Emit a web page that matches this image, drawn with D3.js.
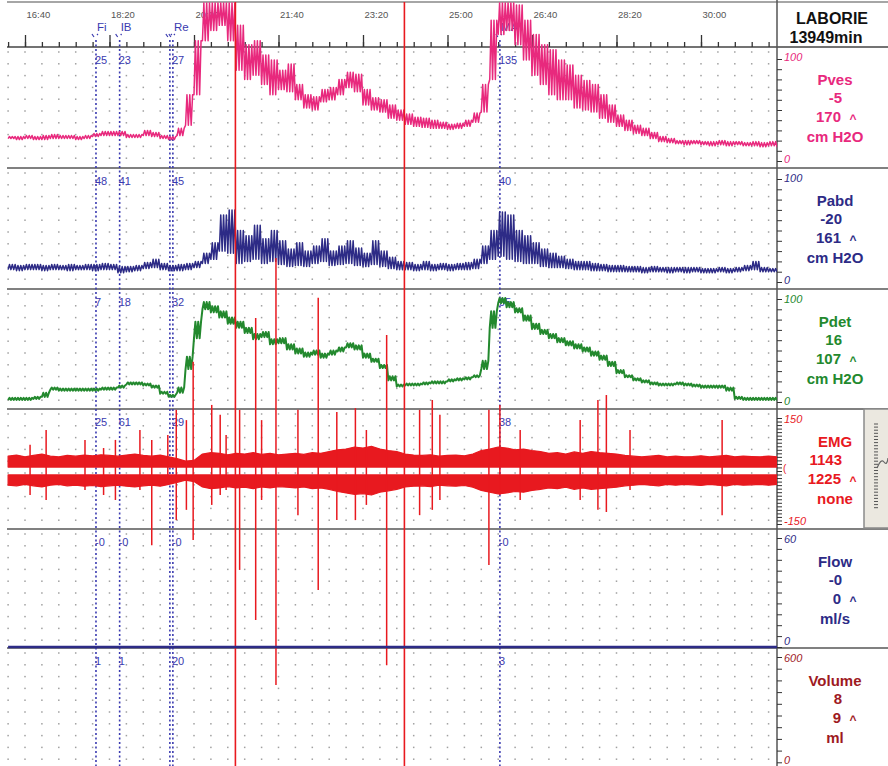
<!DOCTYPE html>
<html lang="en">
<head>
<meta charset="utf-8">
<title>Urodynamics trace</title>
<script src="https://cdn.jsdelivr.net/npm/d3@7"></script>
<style>
* { margin: 0; padding: 0; }
body { background: #fff; }
svg { display: block; font-family: 'Liberation Sans', Arial, sans-serif; }
</style>
</head>
<body>
<script>
// ---- data (time in seconds) ----
const t0 = 980, step = 10;   // one lo/hi pair every 10 s
const majorTicks = [1000, 1100, 1200, 1300, 1400, 1500, 1600, 1700, 1800];
const tickLabels = ["16:40", "18:20", "20:00", "21:40", "23:20", "25:00", "26:40", "28:20", "30:00"];
const minorTicks = [980,1000,1020,1040,1060,1080,1100,1120,1140,1160,1180,1200,1220,1240,1260,1280,1300,1320,1340,1360,1380,1400,1420,1440,1460,1480,1500,1520,1540,1560,1580,1600,1620,1640,1660,1680,1700,1720,1740,1760,1780,1800,1820,1840,1860,1880];

const pvesLo = [22,21,22,21,21,22,22,22,21,22, 24,25,25,25,23,23,25,24,22,21, 25,35,65,118,128,133,118,89,80,84, 75,65,70,68,60,52,50,58,60,65, 72,68,55,50,48,42,40,36,34,33, 32,32,31,32,34,38,48,80,124,128, 114,99,84,75,65,60,60,52,50,48, 42,38,34,30,27,25,22,19,18,17, 16,17,16,15,16,15,16,15,15,14, 15,14];
const pvesHi = [24,24,25,24,25,26,25,25,24,25, 27,29,29,29,26,26,30,28,25,24, 32,65,118,155,155,155,155,133,114,118, 104,99,89,95,75,65,63,70,72,80, 87,85,70,62,60,55,50,46,43,42, 40,38,36,37,40,47,75,138,155,155, 153,138,124,114,109,99,94,84,79,75, 65,55,45,40,35,32,28,24,22,20, 20,20,19,19,20,19,19,18,19,18, 19,17];

const pabdLo = [12,11,12,12,11,12,12,11,12,12, 11,12,12,9,10,11,13,14,12,11, 11,12,14,18,22,30,28,18,20,22, 18,20,17,15,16,15,18,20,16,17, 18,16,15,17,15,13,12,12,11,12, 11,12,11,12,12,13,18,22,25,22, 20,18,18,15,14,14,13,12,12,11, 11,10,10,10,10,9,10,10,9,10, 9,10,9,9,10,9,10,11,12,10, 10,10];
const pabdHi = [17,16,17,17,16,17,16,17,16,17, 17,18,17,15,15,16,19,22,18,16, 17,18,20,28,38,65,70,50,45,55, 42,50,40,32,38,30,35,42,30,35, 40,33,28,40,30,24,20,19,17,20, 17,18,17,18,19,22,35,50,68,65, 50,45,38,32,28,25,22,20,20,18, 17,16,16,15,15,14,15,14,14,14, 14,14,13,13,14,13,14,16,20,14, 13,13];

const pdetLo = [2,2,2,3,5,12,11,11,11,11, 11,12,12,14,17,17,16,14,8,5, 9,32,62,90,87,82,76,72,67,61, 63,56,57,51,47,44,46,43,46,49, 53,51,43,39,33,21,15,16,16,17, 18,18,20,21,22,24,32,72,96,92, 87,79,71,66,62,58,55,52,49,45, 41,35,28,24,21,19,17,16,16,17, 16,15,14,14,14,11,3,2,2,2, 2,2];
const pdetHi = [4,4,4,5,9,14,13,13,13,13, 13,14,14,16,19,19,18,16,10,7, 14,44,78,97,93,88,82,78,72,66, 68,61,62,56,52,48,50,47,50,53, 57,55,47,42,36,25,17,18,18,19, 20,20,22,23,24,26,40,88,101,97, 91,84,76,70,66,62,59,56,53,49, 45,39,31,26,23,21,19,18,18,19, 18,17,16,16,16,14,5,4,4,4, 4,4];

const emgUp = [42,45,40,44,48,42,40,44,42,45, 43,46,44,42,45,48,44,42,45,40, 35,28,30,48,52,50,46,50,48,52, 47,50,46,48,50,47,52,50,55,60, 62,68,65,70,62,58,55,48,45,44, 46,42,44,45,43,48,58,62,68,65, 60,62,58,55,50,52,48,54,50,55, 52,50,48,44,42,40,42,44,40,42, 40,41,43,40,42,44,40,42,41,40, 42,40];
const emgDn = [-40,-42,-38,-42,-45,-40,-38,-42,-40,-43, -41,-44,-42,-40,-43,-45,-42,-40,-43,-38, -32,-26,-30,-45,-50,-48,-44,-48,-46,-50, -45,-48,-44,-46,-48,-45,-50,-48,-52,-58, -62,-66,-64,-68,-60,-56,-52,-45,-43,-42, -44,-40,-42,-43,-41,-46,-55,-60,-65,-62, -58,-60,-55,-52,-48,-50,-46,-52,-48,-52, -50,-48,-46,-42,-40,-38,-40,-42,-38,-40, -38,-39,-41,-38,-40,-42,-38,-40,-39,-38, -40,-38];

const spikeTimes  = [1006,1025,1071,1093,1107,1136,1150,1169,1179,1191,1199,1221,1231,1238,1254,1273,1280,1297,1323,1347,1369,1391,1404,1428,1467,1482,1491,1549,1562,1586,1657,1678,1688,1716,1825];
const spikeTop    = [74,116,88,65,88,116,88,102,173,144,309,187,159,102,173,433,144,603,173,490,167,178,116,385,173,201,159,173,187,116,144,201,215,116,144];
const spikeBottom = [-68,-82,-54,-68,-82,-54,-210,-25,-139,-110,-195,-96,-68,-54,-280,-422,-82,-606,-125,-337,-139,-139,-96,-550,-125,-110,-82,-266,-68,-82,-82,-110,-116,-54,-125];
const redEventTimes = [1249, 1449];

const flowTimes = [980, 1890];
const flowValues = [0, 0];
const volTimes = [980, 1084, 1112, 1175, 1562, 1890];
const volValues = [0, 1, 1, 20, 3, 8];

const markerNames = ["Fi", "IB", "Re", "MA"];
const markerTimes = [1084, 1112, 1175, 1562];
const markerValues = [
  ["25", "23", "27", "135"],
  ["48", "41", "45", "40"],
  ["7", "18", "32", "95"],
  ["25", "61", "29", "38"],
  ["-0", "-0", "-0", "-0"],
  ["1", "1", "20", "3"]
];

const chanNames = ["Pves", "Pabd", "Pdet", "EMG", "Flow", "Volume"];
const chanNow = ["-5", "-20", "16", "1143", "-0", "8"];
const chanMax = ["170", "161", "107", "1225", "0", "9"];
const chanUnits = ["cm H2O", "cm H2O", "cm H2O", "none", "ml/s", "ml"];
const scaleTopLabels = ["100", "100", "100", "150", "60", "600"];
const scaleBottomLabels = ["0", "0", "0", "-150", "0", "0"];
const scaleDomains = [[0, 100], [0, 100], [0, 100], [-150, 150], [0, 60], [0, 600]];
const scaleTickSteps = [10, 10, 10, 10, 6, 60];

// ---- layout / style ----
const W = 888, H = 766;
const plotL = 7, plotR = 777, axisY = 47;
const panelTops = [47, 168, 289, 409, 529, 648];
const chanColor = ["#e8297d", "#2d2b86", "#23892e", "#e8191f", "#2d2b86", "#9e1a1f"];
const markerColor = "#3a3ab0";

const x = d3.scaleLinear().domain([1000, 1800]).range([25, 701]);
const yRanges = [[161, 59], [282, 179], [402, 299], [524, 418], [647, 538], [774, 657]];
const yScales = scaleDomains.map((d, i) => d3.scaleLinear().domain(d).range(yRanges[i]));

const svg = d3.select("body").append("svg")
    .attr("width", W)
    .attr("height", H);

svg.append("defs").append("clipPath").attr("id", "plotclip")
  .append("rect").attr("x", plotL).attr("y", 2).attr("width", plotR - plotL).attr("height", H);

// grid of dots
const dots = svg.append("g").attr("fill", "#a0a0a0");
panelTops.forEach(top => {
  for (let k = 0; k < 10; k++) {
    dots.selectAll(null)
      .data(minorTicks)
      .enter().append("rect")
        .attr("x", d => x(d) - 0.75)
        .attr("y", top + 5 + k * 11.8 - 0.75)
        .attr("width", 1.5)
        .attr("height", 1.5);
  }
});

// frame and separators
svg.append("line").attr("x1", plotL).attr("x2", W).attr("y1", 2).attr("y2", 2)
  .attr("stroke", "#888").attr("stroke-width", 1.5);
panelTops.forEach((y, i) => {
  svg.append("line")
    .attr("x1", plotL).attr("x2", W)
    .attr("y1", y).attr("y2", y)
    .attr("stroke", i === 0 ? "#444" : "#808080")
    .attr("stroke-width", i === 0 ? 1.5 : 2);
});
svg.append("line").attr("x1", plotR).attr("x2", plotR).attr("y1", 0).attr("y2", H)
  .attr("stroke", "#555").attr("stroke-width", 1.5);

// time axis
svg.append("g")
  .attr("transform", `translate(0,${axisY})`)
  .call(d3.axisTop(x).tickValues(minorTicks).tickSize(5).tickFormat(""))
  .call(g => g.select(".domain").remove())
  .call(g => g.selectAll(".tick line").attr("stroke", "#333").attr("stroke-width", 1.3));
svg.append("g")
  .attr("transform", `translate(0,${axisY})`)
  .call(d3.axisTop(x).tickValues(majorTicks).tickSize(12).tickPadding(17)
    .tickFormat((d, i) => tickLabels[i]))
  .call(g => g.select(".domain").remove())
  .call(g => g.selectAll(".tick line").attr("stroke", "#333").attr("stroke-width", 1.3))
  .call(g => g.selectAll(".tick text")
    .attr("text-anchor", "start").attr("dx", 1)
    .attr("font-size", 9.5).attr("fill", "#555")
    .attr("font-family", "'Liberation Sans', Arial, sans-serif"));

// markers (Re is drawn as a double line)
const mk = svg.append("g");
markerTimes.forEach((t, i) => {
  const mx = x(t);
  const offs = markerNames[i] === "Re" ? [-3, 0] : [0];
  offs.forEach(o => {
    mk.append("line")
      .attr("x1", mx + o).attr("x2", mx + o).attr("y1", 40).attr("y2", H)
      .attr("stroke", markerColor).attr("stroke-width", 1.6)
      .attr("stroke-dasharray", "2,2.5");
    mk.append("path")
      .attr("d", `M${mx + o - 4},34 L${mx + o - 2},37 M${mx + o + 1},34 L${mx + o + 2},35`)
      .attr("stroke", markerColor).attr("stroke-width", 1.2).attr("fill", "none");
  });
  mk.append("text")
    .attr("x", mx + 1)
    .attr("y", 31)
    .attr("font-size", 11.5)
    .attr("fill", markerColor)
    .text(markerNames[i]);
  panelTops.forEach((top, p) => {
    mk.append("text")
      .attr("x", mx - 1)
      .attr("y", top + 17)
      .attr("font-size", 11)
      .attr("fill", markerColor)
      .text(markerValues[p][i]);
  });
});

// traces: pressure channels drawn as a scribble through each 10 s min/max
const traces = svg.append("g").attr("clip-path", "url(#plotclip)");

function scribble(lo, hi, ys, color, width, n) {
  const pts = [];
  lo.forEach((l, i) => {
    const t = t0 + i * step;
    for (let k = 0; k < n; k++) {
      pts.push([t + (2 * k) * step / (2 * n), l], [t + (2 * k + 1) * step / (2 * n), hi[i]]);
    }
  });
  traces.append("path")
    .datum(pts)
    .attr("fill", "none")
    .attr("stroke", color)
    .attr("stroke-width", width)
    .attr("stroke-linejoin", "round")
    .attr("d", d3.line().x(d => x(d[0])).y(d => ys(d[1])));
}

function band(lo, hi, ys, color, width) {
  const pts = lo.map((l, i) => ({ t: t0 + i * step, lo: l, hi: hi[i] }));
  traces.append("path")
    .datum(pts)
    .attr("fill", color)
    .attr("stroke", color)
    .attr("stroke-width", width)
    .attr("stroke-linejoin", "round")
    .attr("d", d3.area().x(d => x(d.t)).y0(d => ys(d.lo)).y1(d => ys(d.hi)));
}

function line(ts, vs, ys, color, width) {
  traces.append("path")
    .datum(ts.map((t, i) => [t, vs[i]]))
    .attr("fill", "none")
    .attr("stroke", color)
    .attr("stroke-width", width)
    .attr("d", d3.line().x(d => x(d[0])).y(d => ys(d[1])));
}

scribble(pvesLo, pvesHi, yScales[0], chanColor[0], 1.5, 3);
scribble(pabdLo, pabdHi, yScales[1], chanColor[1], 1.5, 3);
scribble(pdetLo, pdetHi, yScales[2], chanColor[2], 2, 3);

// EMG: two noisy bands either side of zero
const emgInner = 11;
band(emgUp.map(() => emgInner), emgUp, yScales[3], chanColor[3], 1.2);
band(emgDn.map(() => -emgInner), emgDn, yScales[3], chanColor[3], 1.2);
traces.append("g").selectAll("line")
  .data(spikeTimes)
  .enter().append("line")
    .attr("x1", d => x(d)).attr("x2", d => x(d))
    .attr("y1", (d, i) => yScales[3](spikeTop[i]))
    .attr("y2", (d, i) => yScales[3](spikeBottom[i]))
    .attr("stroke", chanColor[3])
    .attr("stroke-width", 1.5);
traces.append("g").selectAll("line")
  .data(redEventTimes)
  .enter().append("line")
    .attr("x1", d => x(d)).attr("x2", d => x(d))
    .attr("y1", 0).attr("y2", H)
    .attr("stroke", chanColor[3])
    .attr("stroke-width", 1.6);

line(flowTimes, flowValues, yScales[4], chanColor[4], 2.5);
line(volTimes, volValues, yScales[5], chanColor[5], 2);

// right side panel
svg.append("text").attr("x", 832).attr("y", 24).attr("text-anchor", "middle")
  .attr("font-size", 16).attr("font-weight", "bold").attr("fill", "#111").text("LABORIE");
svg.append("text").attr("x", 826).attr("y", 43).attr("text-anchor", "middle")
  .attr("font-size", 16).attr("font-weight", "bold").attr("fill", "#111").text("13949min");

panelTops.forEach((top, p) => {
  const c = chanColor[p];
  const ys = yScales[p];
  const [a, b] = scaleDomains[p];
  svg.append("g")
    .attr("transform", `translate(${plotR},0)`)
    .call(d3.axisRight(ys).tickValues(d3.range(a, b + 0.01, scaleTickSteps[p]).filter(v => ys(v) < top + 120)).tickSize(5).tickFormat(""))
    .call(g => g.select(".domain").remove())
    .call(g => g.selectAll(".tick line").attr("stroke", "#333"));
  svg.append("text").attr("x", 784).attr("y", top + 14)
    .attr("font-size", 11).attr("font-style", "italic").attr("fill", c)
    .text(scaleTopLabels[p]);
  svg.append("text").attr("x", 784).attr("y", top + 116)
    .attr("font-size", 11).attr("font-style", "italic").attr("fill", c)
    .text(scaleBottomLabels[p]);

  const g = svg.append("g").attr("fill", c).attr("font-size", 15).attr("font-weight", "bold");
  g.append("text").attr("x", 835).attr("y", top + 38).attr("text-anchor", "middle").text(chanNames[p]);
  g.append("text").attr("x", 842).attr("y", top + 56).attr("text-anchor", "end").text(chanNow[p]);
  g.append("text").attr("x", 841).attr("y", top + 75).attr("text-anchor", "end").text(chanMax[p]);
  g.append("text").attr("x", 853).attr("y", top + 76).attr("text-anchor", "middle")
    .attr("font-size", 12).text("^");
  g.append("text").attr("x", 835).attr("y", top + 95).attr("text-anchor", "middle").text(chanUnits[p]);
});

// EMG gain slider on the right edge
const sl = svg.append("g");
sl.append("rect").attr("x", 864).attr("y", 409).attr("width", 26).attr("height", 119)
  .attr("fill", "#ebe8e0").attr("stroke", "#8a8a8a").attr("stroke-width", 1.5);
sl.selectAll(null).data(d3.range(0, 28)).enter().append("line")
  .attr("x1", 874).attr("x2", 878)
  .attr("y1", d => 424 + d * 3.1).attr("y2", d => 424 + d * 3.1)
  .attr("stroke", "#555").attr("stroke-width", 1);
sl.append("path").attr("d", "M877,468 Q881,458 884,462 T888,458")
  .attr("fill", "none").attr("stroke", "#666").attr("stroke-width", 1.2);
svg.append("text").attr("x", 783).attr("y", 472).attr("font-size", 10)
  .attr("fill", chanColor[3]).text("(");
</script>
</body>
</html>
